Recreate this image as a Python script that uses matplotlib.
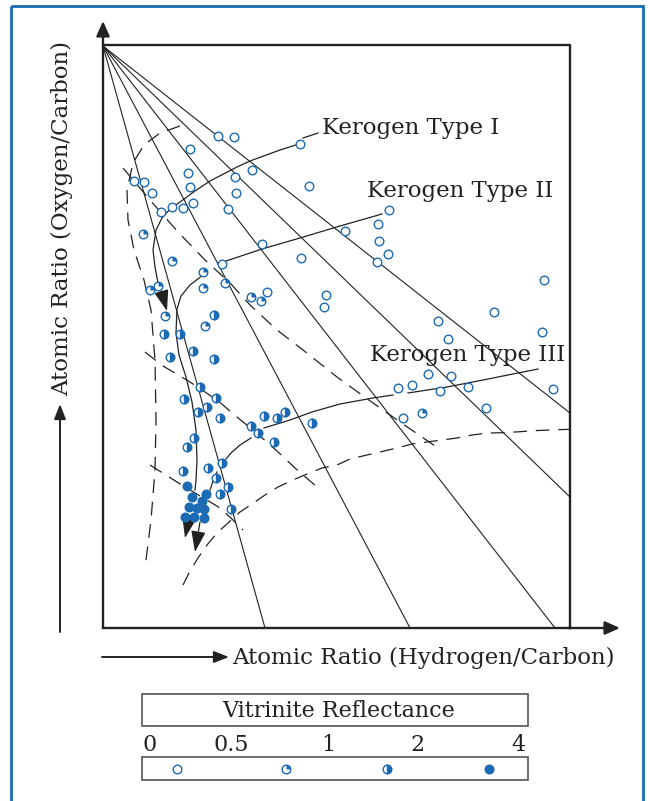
import matplotlib
matplotlib.use("Agg")
import matplotlib.pyplot as plt
from matplotlib.path import Path
from matplotlib.patches import Rectangle

plt.rcParams["font.family"] = ["DejaVu Serif"]

BLUE = "#1b6ab3"
INK = "#222222"

# sample points (diagram units), by vitrinite reflectance class
open_x = [217.7, 233.7, 190, 299.5, 187.7, 252.3, 234.7, 133.7, 143.7, 190, 152.3, 236.3,
          308.5, 160.7, 172.3, 183.3, 192.7, 228.3, 262.3, 301, 221.7, 266.7, 325.7, 324,
          389.3, 378, 345, 379, 388, 377, 544.3, 494, 438, 542, 448, 428.3, 451, 398,
          411.7, 440, 468.3, 552.7, 486.3, 403.3]
open_y = [136, 136.7, 149.3, 143.7, 173.3, 170.3, 176.7, 181, 182.3, 186.7, 193.3, 193,
          185.5, 212, 207.3, 208, 203.3, 209, 243.7, 258.3, 263.7, 292.3, 294.5, 306.8,
          210, 224, 231.3, 241, 253.7, 262, 280.3, 312.3, 321.3, 331.7, 338.7, 374.3,
          375.7, 388.3, 385, 391, 387, 389.3, 408.3, 418.3]

quarter_x = [142.7, 171.7, 202.7, 224.7, 203.3, 150.3, 158, 251.3, 261, 165, 205, 422.3]
quarter_y = [234, 261, 271.7, 282.7, 287.7, 289.7, 285.7, 296.7, 301, 316, 325.7, 413.3]

half_x = [213.7, 164.3, 180, 192.7, 170, 213.7, 200, 184.3, 215.7, 206.7, 198.3, 219.7,
          251.3, 257.7, 264, 276.7, 285, 311.7, 273.7, 194, 187.3, 182.7, 208.3, 222.3,
          216, 228, 219.7, 231]
half_y = [315.3, 334.3, 333.7, 350.7, 357, 359, 387.3, 398.7, 397.7, 406.7, 412, 418.3,
          426, 433.3, 416.3, 418.3, 411.7, 423.3, 442.3, 438, 447, 471, 467.7, 463,
          477.7, 486.7, 494.3, 509.3]

full_x = [187.3, 192.3, 206, 202, 189, 196.7, 204.3, 185, 194, 204]
full_y = [486, 496.7, 494, 500.7, 507.3, 508.3, 509.3, 517, 517.3, 517.7]

# iso-lines from the origin corner
ray_x0, ray_y0 = 103, 46
ray_x_end = [265, 410, 555, 570, 570]
ray_y_end = [628, 628, 628, 497, 413]

# kerogen evolution paths
type1_a_x = [318, 303]
type1_a_y = [133, 138]
type1_b_x = [296, 280, 250, 237, 210, 195, 180, 170, 162, 156, 153, 155, 158, 163]
type1_b_y = [145, 150, 161, 167, 181, 191, 202, 209, 218, 230, 250, 267, 283, 297]

type2_a_x = [382, 340, 300, 262, 226]
type2_a_y = [214, 226, 238, 249, 261]
type2_b_x = [203, 190, 181, 177, 176, 179, 186, 192, 196, 197, 196, 195]
type2_b_y = [275, 285, 296, 309, 333, 355, 377, 402, 430, 460, 480, 490]
type2_c_x = [189, 185]
type2_c_y = [519, 538]

type3_a_x = [538, 483, 447, 408]
type3_a_y = [369, 380, 387, 393]
type3_b_x = [393, 373, 340, 312, 290, 264]
type3_b_y = [395, 398, 404, 412, 420, 428]
type3_c_x = [251, 240, 231, 226]
type3_c_y = [438, 445, 453, 459]
type3_d_x = [217, 213, 210]
type3_d_y = [472, 481, 490]
type3_e_x = [200, 195]
type3_e_y = [522, 552]

# dashed boundaries
dash1_x = [180, 160, 144, 133, 127, 128, 134, 144, 151, 155, 156, 155, 151, 145]
dash1_y = [126, 133, 145, 163, 190, 220, 250, 280, 310, 360, 420, 470, 520, 568]
dash2_x = [123, 150, 178, 205, 230, 250, 277, 303, 337, 366, 400, 438]
dash2_y = [168, 200, 232, 260, 283, 305, 330, 350, 377, 398, 422, 448]
dash3_x = [145, 163, 190, 217, 237, 260, 277, 295, 317]
dash3_y = [352, 366, 382, 400, 417, 436, 451, 468, 487]
dash4_x = [150, 177, 190, 207, 220, 233, 243]
dash4_y = [465, 482, 490, 500, 508, 520, 530]
dash5_x = [183, 190, 198, 207, 217, 228, 240, 252, 265, 278, 293, 307, 322, 337, 350,
           367, 380, 397, 412, 427, 442, 457, 472, 488, 503, 520, 533, 550, 570]
dash5_y = [585, 571, 558, 545, 533, 523, 512, 504, 495, 487, 480, 474, 468, 465, 459,
           455, 452, 448, 444, 442, 440, 438, 435, 433, 432.7, 431.7, 430.7, 430, 429.3]

legend_ticks = ["0", "0.5", "1", "2", "4"]
legend_tick_x = [150, 231, 328, 417, 518]
legend_mark_x = [177, 286, 387, 489]

fig = plt.figure(figsize=(6.5, 8.01), dpi=100)
ax = fig.add_axes([0, 0, 1, 1])
ax.set_xlim(0, 650)
ax.set_ylim(801, 0)
ax.axis("off")

# blue frame
ax.add_patch(Rectangle((11, 6), 632, 810, fill=False, ec=BLUE, lw=2.0, zorder=1))

# box and axes
ax.plot([103, 570, 570], [45, 45, 628], color=INK, lw=1.7, solid_capstyle="projecting")
ax.plot([103, 570], [628, 628], color=INK, lw=1.7)
arrow_kw = dict(arrowstyle="-|>,head_length=0.9,head_width=0.4", color=INK, lw=1.7,
                shrinkA=0, shrinkB=0)
ax.annotate("", xy=(103, 21), xytext=(103, 628), arrowprops=arrow_kw)
ax.annotate("", xy=(620, 628), xytext=(568, 628), arrowprops=arrow_kw)

for xe, ye in zip(ray_x_end, ray_y_end):
    ax.plot([ray_x0, xe], [ray_y0, ye], color=INK, lw=0.8)

curve_kw = dict(color=INK, lw=0.9)
for xs, ys in [(type1_a_x, type1_a_y), (type1_b_x, type1_b_y), (type2_a_x, type2_a_y),
               (type2_b_x, type2_b_y), (type3_a_x, type3_a_y), (type3_b_x, type3_b_y),
               (type3_c_x, type3_c_y), (type3_d_x, type3_d_y)]:
    ax.plot(xs, ys, **curve_kw)

head_kw = dict(arrowstyle="-|>,head_length=1.3,head_width=0.45", color=INK, lw=0.9,
               shrinkA=0, shrinkB=0)
ax.annotate("", xy=(167, 311), xytext=(type1_b_x[-1], type1_b_y[-1]), arrowprops=head_kw)
ax.annotate("", xy=(type2_c_x[1], type2_c_y[1]), xytext=(type2_c_x[0], type2_c_y[0]),
            arrowprops=head_kw)
ax.annotate("", xy=(type3_e_x[1], type3_e_y[1]), xytext=(type3_e_x[0], type3_e_y[0]),
            arrowprops=head_kw)

for xs, ys in [(dash1_x, dash1_y), (dash2_x, dash2_y), (dash3_x, dash3_y),
               (dash4_x, dash4_y), (dash5_x, dash5_y)]:
    ax.plot(xs, ys, color=INK, lw=0.9, dashes=(11, 7))

# markers
quarter = Path.wedge(0, 90)
ms = 6.2
mew = 1.0


def draw_points(xs, ys, kind):
    if kind == "open":
        ax.plot(xs, ys, "o", ms=ms, mfc="white", mec=BLUE, mew=mew, ls="none", zorder=5)
    elif kind == "quarter":
        ax.plot(xs, ys, "o", ms=ms, mfc="white", mec=BLUE, mew=mew, ls="none", zorder=5)
        ax.plot(xs, ys, marker=quarter, ms=ms, mfc=BLUE, mec="none", mew=0, ls="none", zorder=6)
    elif kind == "half":
        ax.plot(xs, ys, "o", ms=ms, mfc=BLUE, mfcalt="white", fillstyle="right", mec=BLUE,
                mew=mew, ls="none", zorder=5)
    else:
        ax.plot(xs, ys, "o", ms=ms, mfc=BLUE, mec=BLUE, mew=mew, ls="none", zorder=5)


draw_points(open_x, open_y, "open")
draw_points(quarter_x, quarter_y, "quarter")
draw_points(half_x, half_y, "half")
draw_points(full_x, full_y, "full")

# labels
fs = 16.5
ax.text(322, 128, "Kerogen Type I", fontsize=fs, color=INK, va="center", ha="left")
ax.text(367, 191, "Kerogen Type II", fontsize=fs, color=INK, va="center", ha="left")
ax.text(370, 355, "Kerogen Type III", fontsize=fs, color=INK, va="center", ha="left", zorder=7)

ax.text(62, 219, "Atomic Ratio (Oxygen/Carbon)", fontsize=fs, color=INK, rotation=90,
        ha="center", va="center")
ax.annotate("", xy=(60, 404), xytext=(60, 632),
            arrowprops=dict(arrowstyle="-|>,head_length=0.9,head_width=0.35", color=INK,
                            lw=1.4, shrinkA=0, shrinkB=0))
ax.text(232, 658, "Atomic Ratio (Hydrogen/Carbon)", fontsize=fs, color=INK, ha="left",
        va="center")
ax.annotate("", xy=(229, 657), xytext=(102, 657),
            arrowprops=dict(arrowstyle="-|>,head_length=0.9,head_width=0.35", color=INK,
                            lw=1.4, shrinkA=0, shrinkB=0))

# vitrinite legend
ax.add_patch(Rectangle((142, 694), 386, 32, fill=False, ec="#555555", lw=1.2))
ax.text(339, 711, "Vitrinite Reflectance", fontsize=16, color=INK, ha="center", va="center")
for lab, x in zip(legend_ticks, legend_tick_x):
    ax.text(x, 745, lab, fontsize=16, color=INK, ha="center", va="center")
ax.add_patch(Rectangle((142, 757), 386, 23, fill=False, ec="#555555", lw=1.2))
for kind, x in zip(["open", "quarter", "half", "full"], legend_mark_x):
    draw_points([x], [769], kind)

fig.savefig("out.png", dpi=100)
